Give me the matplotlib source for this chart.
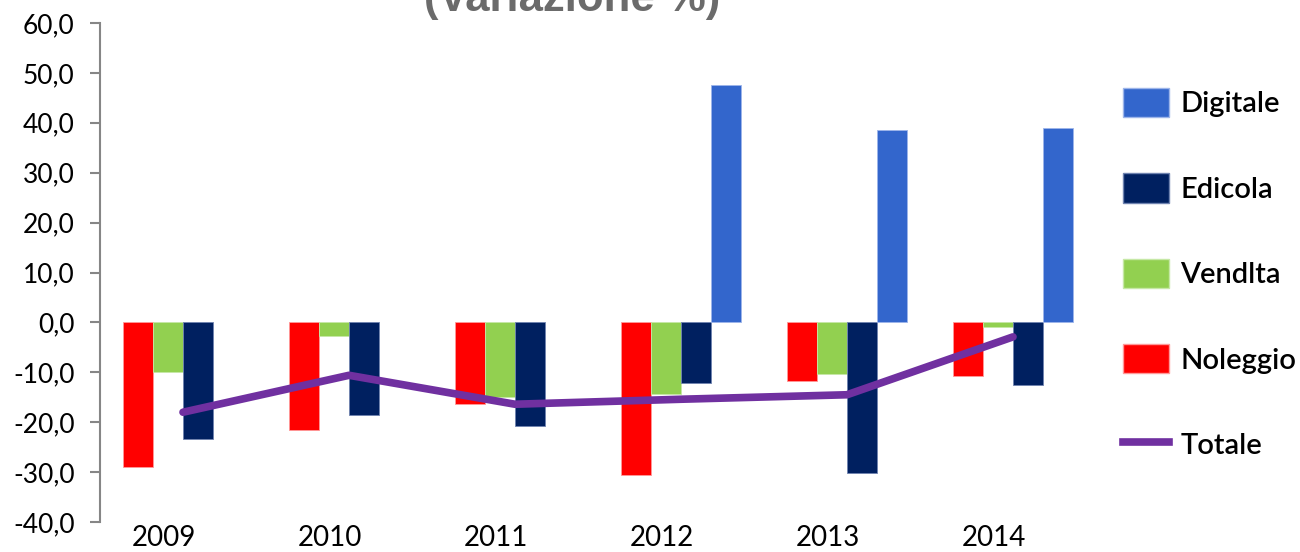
import numpy as np
import matplotlib
matplotlib.use('Agg')
import matplotlib.pyplot as plt
from matplotlib.patches import Patch
from matplotlib.lines import Line2D

plt.rcParams['font.family'] = ['Lato', 'DejaVu Sans']

years = ['2009', '2010', '2011', '2012', '2013', '2014']
noleggio = [-28.9, -21.6, -16.4, -30.6, -11.7, -10.8]
vendita = [-10.0, -2.7, -15.0, -14.4, -10.4, -0.9]
edicola = [-23.3, -18.6, -20.8, -12.1, -30.2, -12.6]
digitale = [np.nan, np.nan, np.nan, 47.6, 38.6, 39.0]
totale = [-18.0, -10.6, -16.4, -15.4, -14.5, -2.9]

c_nol = '#FF0000'
c_ven = '#92D050'
c_edi = '#002060'
c_dig = '#3366CC'
c_tot = '#7030A0'

fig = plt.figure(figsize=(13, 5.52), dpi=100)
ax = fig.add_axes([100/1300, 1 - 522/552, 996/1300, 499/552])

x = np.arange(len(years))
w = 0.18
ax.bar(x - 1.5*w, noleggio, w, color=c_nol, edgecolor='#ff9999', linewidth=0.6)
ax.bar(x - 0.5*w, vendita, w, color=c_ven, edgecolor='#c6e8a6', linewidth=0.6)
ax.bar(x + 0.5*w, edicola, w, color=c_edi, edgecolor='#6f83b0', linewidth=0.6)
ax.bar(x + 1.5*w, digitale, w, color=c_dig, edgecolor='#9db5ea', linewidth=0.6)
ax.plot(x, totale, color=c_tot, linewidth=5.5, solid_capstyle='round', solid_joinstyle='round')

ax.set_xlim(-0.5, 5.5)
ax.set_ylim(-40, 60)
yt = np.arange(-40, 61, 10)
ax.set_yticks(yt)
ax.set_yticklabels([('%.1f' % v).replace('.', ',') for v in yt], fontsize=19)
ax.set_xticks(x - 0.115)
ax.set_xticklabels(years, fontsize=20)
ax.tick_params(axis='x', length=0, pad=2)
ax.tick_params(axis='y', direction='out', length=7.2, width=1.5, color='#868686', pad=11)

for s in ['top', 'right', 'bottom']:
    ax.spines[s].set_visible(False)
ax.spines['left'].set_color('#868686')
ax.spines['left'].set_linewidth(1.5)

# title sits mostly above the top edge, as in the source image
fig.text(572/1300, 1 - 11/552, '(Variazione %)', ha='center', va='baseline',
         fontsize=31.5, fontweight='bold', color='#6b6b6b', family='Liberation Sans')

handles = [Patch(facecolor=c_dig, edgecolor='#9db5ea'),
           Patch(facecolor=c_edi, edgecolor='#6f83b0'),
           Patch(facecolor=c_ven, edgecolor='#c6e8a6'),
           Patch(facecolor=c_nol, edgecolor='#ff9999'),
           Line2D([0], [0], color=c_tot, linewidth=5.5)]
labels = ['Digitale', 'Edicola', 'Vendlta', 'Noleggio', 'Totale']
fig.legend(handles, labels, loc='upper left', bbox_to_anchor=(1123/1300, 1 - 88/552),
           frameon=False, prop={'size': 21, 'weight': 600}, borderpad=0, borderaxespad=0,
           handlelength=1.58, handleheight=1.16, handletextpad=0.38, labelspacing=1.92)

fig.savefig('out.png', dpi=100)
